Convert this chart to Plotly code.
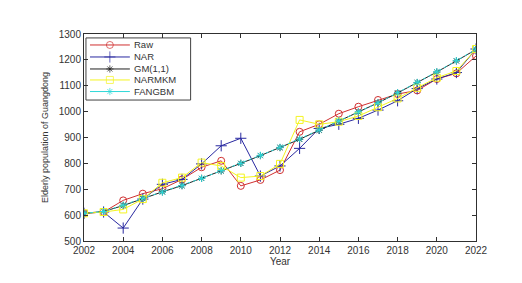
import plotly.graph_objects as go

years = list(range(2002, 2023))
raw = [607, 612, 657, 683, 702, 738, 785, 810, 713, 736, 774, 922, 951, 992, 1019, 1045, 1068, 1082, 1126, 1148, 1215]
nar = [607, 612, 550, 662, 719, 738, 798, 868, 897, 751, 790, 858, 935, 951, 974, 1006, 1042, 1089, 1126, 1151, 1242]
gm = [607, 614, 637, 664, 690, 714, 742, 771, 800, 830, 861, 893, 928, 963, 998, 1034, 1072, 1112, 1153, 1196, 1240]
narmkm = [607, 612, 622, 662, 725, 745, 803, 790, 745, 751, 798, 968, 951, 961, 983, 1017, 1051, 1092, 1131, 1157, 1242]
fangbm = [607, 614, 639, 665, 689, 714, 742, 772, 800, 831, 862, 894, 929, 964, 999, 1034, 1073, 1113, 1154, 1197, 1241]

names = ["Raw", "NAR", "GM(1,1)", "NARMKM", "FANGBM"]
xticks = list(range(2002, 2023, 2))
yticks = list(range(500, 1301, 100))

colors = ["#d03030", "#2828a0", "#202020", "#f4f420", "#30d8d8"]
symbols = ["circle-open", "cross-thin-open", "asterisk-open", "square-open", "asterisk-open"]
sizes = [7, 8, 6, 7, 6]
dashes = ["solid", "solid", "solid", "solid", "dot"]
series = [raw, nar, gm, narmkm, fangbm]

FONT = "Liberation Sans, Arial"
TXT = "#333333"

fig = go.Figure()
for nm, ys, c, s, sz, d in zip(names, series, colors, symbols, sizes, dashes):
    fig.add_trace(go.Scatter(x=years, y=ys, name=nm, mode="lines+markers",
                             line=dict(color=c, width=1, dash=d),
                             marker=dict(symbol=s, size=sz, color=c, line=dict(width=1)),
                             showlegend=False))

# manual legend (paper coordinates of the plot area)
leg_y = [0.947, 0.889, 0.831, 0.778, 0.722]
lx0, lx1, lxm, ltx = 0.0153, 0.117, 0.066, 0.122
shapes = [dict(type="rect", xref="paper", yref="paper", x0=0.005, x1=0.272, y0=0.681, y1=0.981,
               line=dict(color="#404040", width=1), fillcolor="white", layer="below")]
annotations = []
for nm, c, yy in zip(names, colors, leg_y):
    shapes.append(dict(type="line", xref="paper", yref="paper", x0=lx0, x1=lx1, y0=yy, y1=yy,
                       line=dict(color=c, width=1), layer="below"))
    annotations.append(dict(xref="paper", yref="paper", x=ltx, y=yy, text=nm, showarrow=False,
                            xanchor="left", yanchor="middle",
                            font=dict(family=FONT, size=9.5, color=TXT)))
fig.add_trace(go.Scatter(x=[lxm] * 5, y=leg_y, mode="markers", xaxis="x2", yaxis="y2",
                         marker=dict(symbol=symbols, size=sizes, color=colors, line=dict(width=1)),
                         showlegend=False, hoverinfo="skip"))

axis_common = dict(showgrid=False, zeroline=False, showline=True, linecolor="#303030", linewidth=1,
                   mirror="ticks", ticks="inside", ticklen=4, tickcolor="#303030",
                   tickfont=dict(family=FONT, size=10, color=TXT))

fig.update_layout(
    width=514, height=275,
    margin=dict(l=76, r=46, t=26, b=42),
    paper_bgcolor="white", plot_bgcolor="white",
    showlegend=False,
    shapes=shapes, annotations=annotations,
    xaxis=dict(range=[2002, 2022], tickvals=xticks, ticktext=[str(v) for v in xticks],
               title=dict(text="Year", standoff=2, font=dict(family=FONT, size=10, color=TXT)),
               **axis_common),
    yaxis=dict(range=[500, 1300], tickvals=yticks, ticktext=[str(v) for v in yticks],
               title=dict(text="Elderly population of Guangdong", standoff=8,
                          font=dict(family=FONT, size=9, color=TXT)),
               **axis_common),
    xaxis2=dict(overlaying="x", range=[0, 1], visible=False, anchor="y2"),
    yaxis2=dict(overlaying="y", range=[0, 1], visible=False, anchor="x2"),
)

fig.write_html("out.html")
